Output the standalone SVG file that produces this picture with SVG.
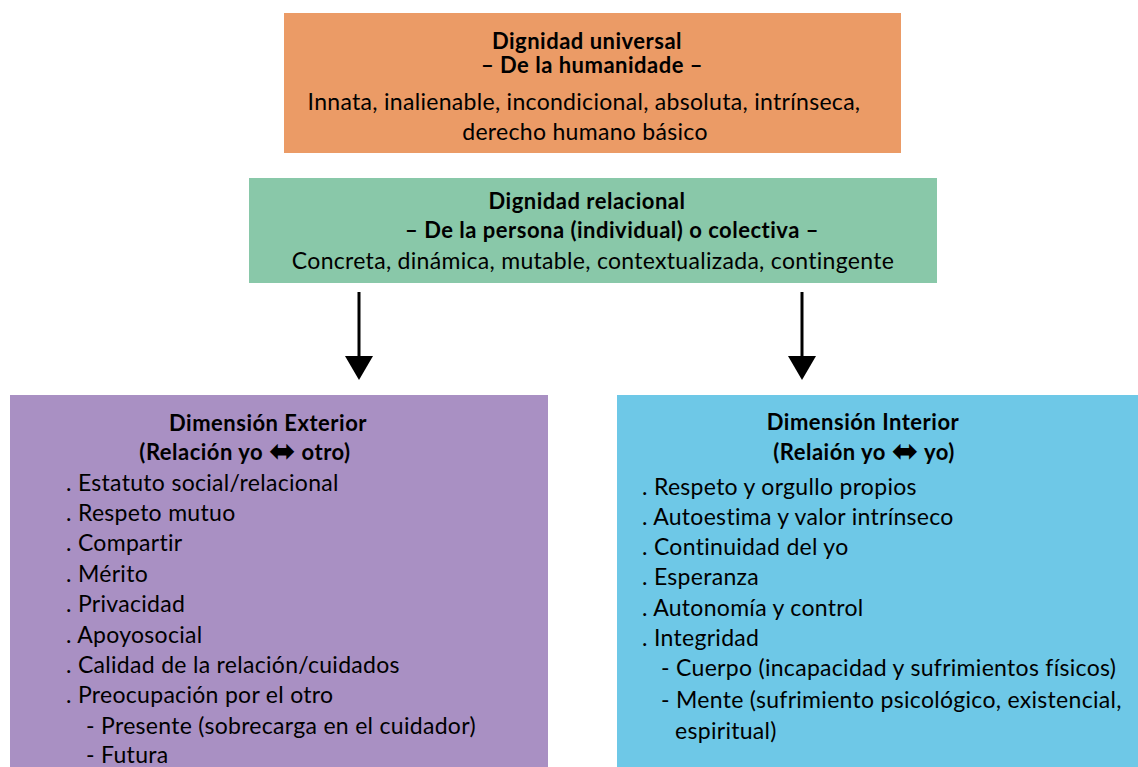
<svg xmlns="http://www.w3.org/2000/svg" width="1138" height="767" viewBox="0 0 1138 767">
<defs>
<style>
text{font-family:Lato,"Noto Sans","Liberation Sans",sans-serif;font-size:23px;letter-spacing:0.3px;fill:#000}
.b{font-weight:bold;font-size:22px;letter-spacing:0.5px}
.c{text-anchor:middle}
.sym{font-family:"DejaVu Sans",sans-serif;font-weight:normal;font-size:32px;letter-spacing:0}
.conn{stroke:#000;stroke-width:3;fill:none}
.head{fill:#000}
</style>
</defs>
<rect width="1138" height="767" fill="#fff"/>
<g id="universal">
<rect x="284" y="13" width="617" height="140" fill="#EB9B66"/>
<text class="b c" x="587" y="49">Dignidad universal</text>
<text class="b c" x="592" y="73">– De la humanidade –</text>
<text class="c" x="584" y="110">Innata, inalienable, incondicional, absoluta, intrínseca,</text>
<text class="c" x="585" y="140">derecho humano básico</text>
</g>
<g id="relacional">
<rect x="249" y="178" width="688" height="105" fill="#89C8A9"/>
<text class="b c" x="587" y="209">Dignidad relacional</text>
<text class="b c" x="612" y="238">– De la persona (individual) o colectiva –</text>
<text class="c" x="593" y="269">Concreta, dinámica, mutable, contextualizada, contingente</text>
</g>
<g id="connectors">
<line class="conn" x1="359" y1="292" x2="359" y2="358"/>
<polygon class="head" points="345,356 373,356 359,380"/>
<line class="conn" x1="802" y1="292" x2="802" y2="358"/>
<polygon class="head" points="788,356 816,356 802,380"/>
</g>
<g id="exterior">
<rect x="10" y="395" width="538" height="372" fill="#A990C3"/>
<text class="b c" x="268" y="431">Dimensión Exterior</text>
<text class="b c" x="245" y="460">(Relación yo <tspan class="sym" dy="2">⬌</tspan><tspan dy="-2"> otro)</tspan></text>
<text x="66" y="491">. Estatuto social/relacional</text>
<text x="66" y="521">. Respeto mutuo</text>
<text x="66" y="551">. Compartir</text>
<text x="66" y="582">. Mérito</text>
<text x="66" y="612">. Privacidad</text>
<text x="66" y="643">. Apoyosocial</text>
<text x="66" y="673">. Calidad de la relación/cuidados</text>
<text x="66" y="703">. Preocupación por el otro</text>
<text x="86" y="734">- Presente (sobrecarga en el cuidador)</text>
<text x="86" y="763">- Futura</text>
</g>
<g id="interior">
<rect x="617" y="395" width="521" height="372" fill="#6EC8E7"/>
<text class="b c" x="863" y="430">Dimensión Interior</text>
<text class="b c" x="864" y="460">(Relaión yo <tspan class="sym" dy="2">⬌</tspan><tspan dy="-2"> yo)</tspan></text>
<text x="642" y="495">. Respeto y orgullo propios</text>
<text x="642" y="525">. Autoestima y valor intrínseco</text>
<text x="642" y="555">. Continuidad del yo</text>
<text x="642" y="585">. Esperanza</text>
<text x="642" y="616">. Autonomía y control</text>
<text x="642" y="646">. Integridad</text>
<text x="661" y="676">- Cuerpo (incapacidad y sufrimientos físicos)</text>
<text x="661" y="708">- Mente (sufrimiento psicológico, existencial,</text>
<text x="675" y="739">espiritual)</text>
</g>
</svg>
